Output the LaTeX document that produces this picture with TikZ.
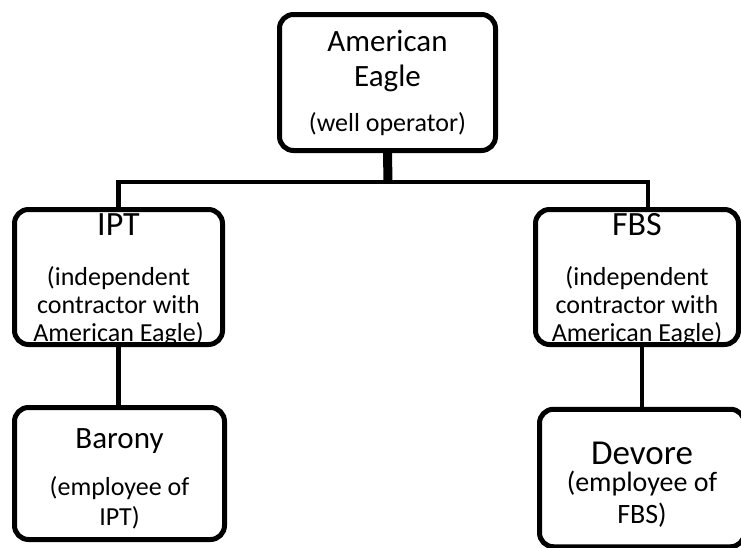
\documentclass[tikz,border=0pt]{standalone}
\usepackage{fontspec}
\setmainfont{Carlito}
\usetikzlibrary{positioning}

\newcommand{\namesize}[1]{\fontsize{#1}{28}\selectfont}
\newcommand{\notesize}[1]{\fontsize{#1}{28}\selectfont}
\newcommand{\topgap}[1]{\rule{0pt}{#1}}

\begin{document}
\begin{tikzpicture}[x=1pt, y=-1pt]
        \tikzstyle{every node}=[draw, line width=5pt, rounded corners=14pt, align=center, inner xsep=0pt, inner ysep=-12pt, font=\notesize{26}]
        \tikzstyle{link}=[line width=4.5pt]

        \clip (0,0) rectangle (741,547);

        % boxes
        \node (eagle)  [minimum width=216pt, minimum height=136pt] at (387.5,82.5)
            {\namesize{31}American\\[7pt]\namesize{31}Eagle\\[17pt](well operator)};
        \node (ipt)    [minimum width=208pt, minimum height=135pt] at (118.5,277)
            {\namesize{34}\topgap{27.5pt}IPT\\[22pt](independent\\contractor with\\American Eagle)};
        \node (fbs)    [minimum width=203pt, minimum height=135pt] at (637,277)
            {\namesize{34}\topgap{27.5pt}FBS\\[22pt](independent\\contractor with\\American Eagle)};
        \node (barony) [minimum width=210pt, minimum height=132pt] at (119.5,473.5)
            {\namesize{31}\topgap{30pt}Barony\\[19pt](employee of\\[2pt]IPT)};
        \node (devore) [minimum width=205pt, minimum height=137.5pt, font=\notesize{28}] at (642,478)
            {\namesize{35}\topgap{36.5pt}Devore\\[-1pt](employee of\\[4pt]FBS)};

        % connectors
        \coordinate (bus)    at (388,182);
        \coordinate (fbsin)  at (648,209.5);
        \draw[line width=9pt] (eagle.south) -- (bus);
        \draw[link] (ipt.north) |- (bus) -| (fbsin);
        \draw[link] (ipt.south) -- (ipt.south |- barony.north);
        \draw[link] (devore.north |- fbs.south) -- (devore.north);
\end{tikzpicture}
\end{document}
